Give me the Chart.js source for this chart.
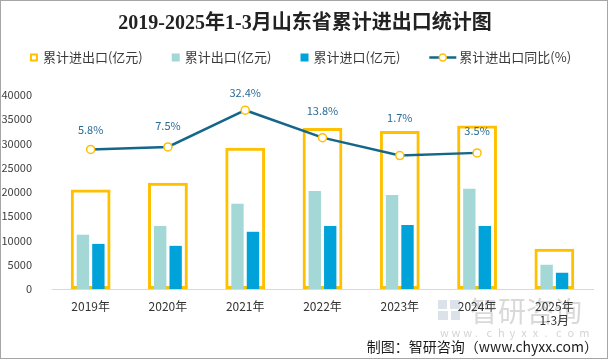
<!DOCTYPE html>
<html><head><meta charset="utf-8">
<script src="https://cdn.jsdelivr.net/npm/chart.js@4.4.1/dist/chart.umd.min.js"></script>
<style>
html,body{margin:0;padding:0;background:#fff;}
canvas{display:block;}
</style></head>
<body>
<canvas id="c" width="609" height="360"></canvas>
<script>
// ---- data ----
const years = ['2019年', '2020年', '2021年', '2022年', '2023年', '2024年', ['2025年', '1-3月']];
const totalTrade = [20500, 21900, 29100, 33200, 32600, 33700, 8300];   // 累计进出口(亿元)
const exportsVal = [11200, 13000, 17600, 20200, 19400, 20650, 5000];   // 累计出口(亿元)
const importsVal = [9300, 8900, 11800, 13000, 13200, 13000, 3350];     // 累计进口(亿元)
const yoyGrowth = [5.8, 7.5, 32.4, 13.8, 1.7, 3.5, null];             // 累计进出口同比(%)
const seriesNames = ['累计进出口(亿元)', '累计出口(亿元)', '累计进口(亿元)', '累计进出口同比(%)'];
const chartTitle = '2019-2025年1-3月山东省累计进出口统计图';
const sourceText = '制图：智研咨询（www.chyxx.com）';

const FONT = '"Noto Sans CJK SC", "Noto Sans", sans-serif';
const C_TOTAL = '#FFC000', C_EXP = '#A3D8D6', C_IMP = '#00A2DA', C_LINE = '#15678A';

const decor = {
  id: 'decor',
  beforeDraw(chart) {
    const ctx = chart.ctx;
    ctx.save();
    // watermark
    ctx.fillStyle = 'rgba(190,202,215,0.55)';
    ctx.fillRect(438, 300, 9, 9);
    ctx.fillRect(450, 300, 10, 9);
    ctx.fillRect(438, 311, 10, 9);
    ctx.fillRect(451, 311, 9, 9);
    ctx.fillStyle = 'rgba(170,170,170,0.45)';
    ctx.font = '28px ' + FONT;
    ctx.textBaseline = 'middle';
    ctx.textAlign = 'left';
    ctx.fillText('智研咨询', 470, 311);
    ctx.font = '11px ' + FONT;
    ctx.fillStyle = 'rgba(170,170,170,0.5)';
    const wm = 'www.chyxx.com'.split('');
    wm.forEach((ch, i) => ctx.fillText(ch, 440 + i * 11.6, 333));
    ctx.restore();
  },
  afterDatasetsDraw(chart) {
    const ctx = chart.ctx;
    const meta = chart.getDatasetMeta(3);
    const lift = [20, 21, 17, 27, 38, 22];
    ctx.save();
    ctx.font = '11px ' + FONT;
    ctx.fillStyle = '#2A6A96';
    ctx.textAlign = 'center';
    ctx.textBaseline = 'middle';
    meta.data.forEach((pt, i) => {
      const v = yoyGrowth[i];
      if (v === null || v === undefined) return;
      ctx.fillText(v.toFixed(1) + '%', pt.x, pt.y - (lift[i] || 21));
    });
    ctx.restore();
  },
  afterDraw(chart) {
    const ctx = chart.ctx;
    ctx.save();
    // title
    ctx.fillStyle = '#222';
    ctx.font = 'bold 20px "Liberation Serif", "Noto Sans CJK SC", serif';
    ctx.textAlign = 'center';
    ctx.textBaseline = 'middle';
    ctx.fillText(chartTitle, 305, 24);
    // legend
    ctx.font = '13px ' + FONT;
    ctx.textAlign = 'left';
    const items = chart.data.datasets.map((ds, i) => {
      const kind = i === 0 ? 'hollow' : (ds.type === 'line' ? 'line' : 'box');
      const mw = kind === 'line' ? 27 : 8;
      const gap = kind === 'line' ? 3 : 5;
      const tw = ctx.measureText(ds.label).width;
      return { ds, kind, mw, gap, tw, w: mw + gap + tw };
    });
    const spacing = 29;
    const total = items.reduce((s, it) => s + it.w, 0) + spacing * (items.length - 1);
    let x = 300.5 - total / 2;
    const y = 57.5;
    items.forEach(it => {
      if (it.kind === 'hollow') {
        ctx.strokeStyle = C_TOTAL; ctx.lineWidth = 2;
        ctx.strokeRect(x + 1, y - 3, 6, 6);
      } else if (it.kind === 'box') {
        ctx.fillStyle = it.ds.backgroundColor;
        ctx.fillRect(x, y - 4, 8, 8);
      } else {
        ctx.strokeStyle = C_LINE; ctx.lineWidth = 2.5;
        ctx.beginPath(); ctx.moveTo(x, y); ctx.lineTo(x + it.mw, y); ctx.stroke();
        ctx.beginPath(); ctx.arc(x + it.mw / 2, y, 3.5, 0, Math.PI * 2);
        ctx.fillStyle = '#fff'; ctx.fill();
        ctx.strokeStyle = C_TOTAL; ctx.lineWidth = 1.5; ctx.stroke();
      }
      ctx.fillStyle = '#3a3a3a';
      ctx.fillText(it.ds.label, x + it.mw + it.gap, y);
      x += it.w + spacing;
    });
    // source
    ctx.font = '14px ' + FONT;
    ctx.fillStyle = '#1a1a1a';
    ctx.textAlign = 'right';
    ctx.fillText(sourceText, 598, 347);
    // border
    ctx.strokeStyle = '#A6A6A6';
    ctx.lineWidth = 1;
    ctx.strokeRect(0.5, 0.5, 607, 358);
    ctx.restore();
  }
};

new Chart(document.getElementById('c'), {
  type: 'bar',
  data: {
    labels: years,
    datasets: [
      { label: seriesNames[0], data: totalTrade, grouped: false, backgroundColor: 'rgba(0,0,0,0)',
        borderColor: C_TOTAL, borderWidth: 3, borderSkipped: false,
        barPercentage: 0.515, categoryPercentage: 1, order: 3 },
      { label: seriesNames[1], data: exportsVal, backgroundColor: C_EXP,
        barPercentage: 0.8, categoryPercentage: 0.4, order: 2 },
      { label: seriesNames[2], data: importsVal, backgroundColor: C_IMP,
        barPercentage: 0.8, categoryPercentage: 0.4, order: 2 },
      { type: 'line', label: seriesNames[3], data: yoyGrowth, yAxisID: 'y1',
        borderColor: C_LINE, borderWidth: 2.5, tension: 0,
        pointRadius: 4, pointBackgroundColor: '#fff', pointBorderColor: C_TOTAL,
        pointBorderWidth: 1.5, order: 0 }
    ]
  },
  options: {
    responsive: false,
    animation: false,
    devicePixelRatio: 1,
    layout: { padding: { top: 95, right: 16, left: 0, bottom: 0 } },
    plugins: { legend: { display: false }, title: { display: false }, tooltip: { enabled: false } },
    scales: {
      x: {
        grid: { display: false, drawTicks: false },
        border: { display: true, color: '#D9D9D9', width: 1 },
        ticks: { color: '#333', font: { size: 12, family: FONT }, padding: 10, maxRotation: 0, autoSkip: false },
        afterFit(s) { s.height = 71; }
      },
      y: {
        min: 0, max: 40000,
        grid: { display: false },
        border: { display: false },
        ticks: { stepSize: 5000, color: '#404040', font: { size: 11, family: FONT }, padding: 12,
                 callback: v => String(v) },
        afterFit(s) { s.width = 52; }
      },
      y1: { display: false, position: 'right', min: -88.7, max: 42.7 }
    }
  },
  plugins: [decor]
});
</script>
</body></html>
